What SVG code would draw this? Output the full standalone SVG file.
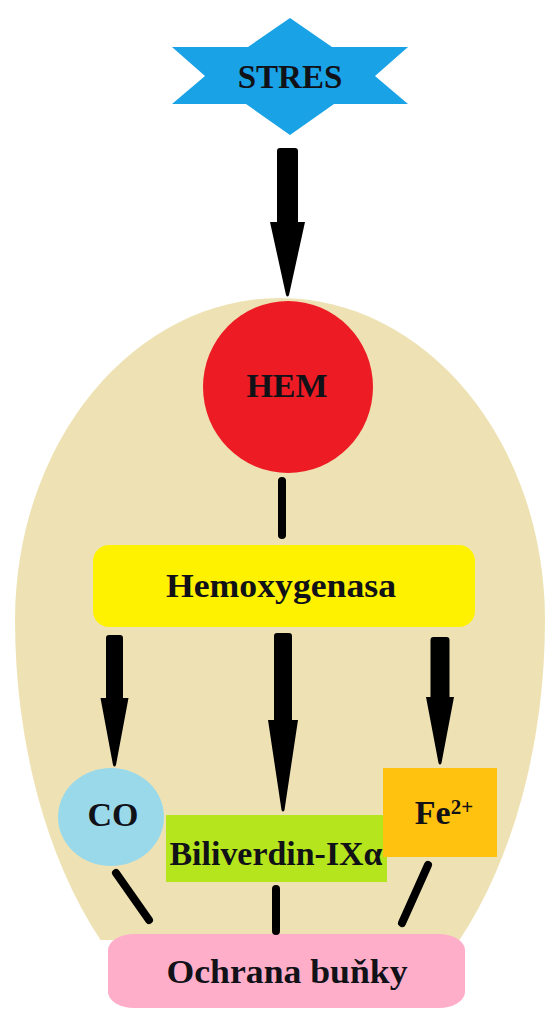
<svg xmlns="http://www.w3.org/2000/svg" width="553" height="1010" viewBox="0 0 553 1010">
<style>
  .t { font-family: "Liberation Serif", "Times New Roman", serif; font-weight: bold; fill: #111118; text-anchor: middle; }
  .arrow { fill: #000; }
  .line { stroke: #000; stroke-width: 8; stroke-linecap: round; fill: none; }
</style>
<rect width="553" height="1010" fill="#ffffff"/>
<g id="cell">
  <path d="M15,620 A265,322 0 0 1 545,620 A265,435 0 0 1 459.5,940 L100.5,940 A265,435 0 0 1 15,620 Z" fill="#EEE2B4"/>
</g>
<g id="stres">
  <polygon points="290,18 332,47 408,47 375,76 408,104 334,104 290,135 246,104 172,104 205,76 172,47 248,47" fill="#1AA2E6"/>
  <text class="t" x="290" y="88" font-size="33">STRES</text>
</g>
<g id="hem">
  <ellipse cx="288" cy="387" rx="85" ry="86" fill="#ED1C24"/>
  <text class="t" x="287" y="397" font-size="34">HEM</text>
</g>
<g id="hemoxygenasa">
  <rect x="93" y="545" width="382" height="82" rx="16" ry="16" fill="#FFF200"/>
  <text class="t" x="281" y="597" font-size="34" textLength="230" lengthAdjust="spacingAndGlyphs">Hemoxygenasa</text>
</g>
<g id="co">
  <ellipse cx="111" cy="817" rx="53" ry="49" fill="#99D9EA"/>
  <text class="t" x="113" y="826" font-size="34">CO</text>
</g>
<g id="biliverdin">
  <rect x="166" y="815" width="221" height="67" fill="#B5E61D"/>
  <text class="t" x="276" y="865" font-size="33" textLength="213" lengthAdjust="spacingAndGlyphs">Biliverdin-IXα</text>
</g>
<g id="fe">
  <rect x="383" y="768" width="114" height="89" fill="#FFC20E"/>
  <text class="t" x="444" y="824" font-size="34">Fe<tspan font-size="21" dy="-10">2+</tspan></text>
</g>
<g id="ochrana">
  <rect x="108" y="934" width="357" height="74" rx="26" ry="16" fill="#FFAEC9"/>
  <text class="t" x="287" y="983" font-size="34" textLength="241" lengthAdjust="spacingAndGlyphs">Ochrana buňky</text>
</g>
<g id="connectors">
  <path class="arrow" d="M277,151 Q277,148 280,148 L295,148 Q298,148 298,151 L298,222 L305,222 L289,295 Q287.5,298 286,295 L270,222 L277,222 Z"/>
  <line class="line" x1="282" y1="481" x2="282" y2="535"/>
  <path class="arrow" d="M106,638 Q106,635 109,635 L120,635 Q123,635 123,638 L123,698 L128.5,698 L116,765 Q114.5,768 113,765 L100.5,698 L106,698 Z"/>
  <path class="arrow" d="M274,636 Q274,633 277,633 L289,633 Q292,633 292,636 L292,720 L298,720 L284.5,810 Q283,813 281.5,810 L268,720 L274,720 Z"/>
  <path class="arrow" d="M430.5,640 Q430.5,637 433.5,637 L446.5,637 Q449.5,637 449.5,640 L449.5,697 L454,697 L441.5,763 Q440,766 438.5,763 L426,697 L430.5,697 Z"/>
  <line class="line" x1="116" y1="873" x2="149" y2="920"/>
  <line class="line" x1="276" y1="889" x2="276" y2="931"/>
  <line class="line" x1="428" y1="865" x2="402" y2="923"/>
</g>
</svg>
